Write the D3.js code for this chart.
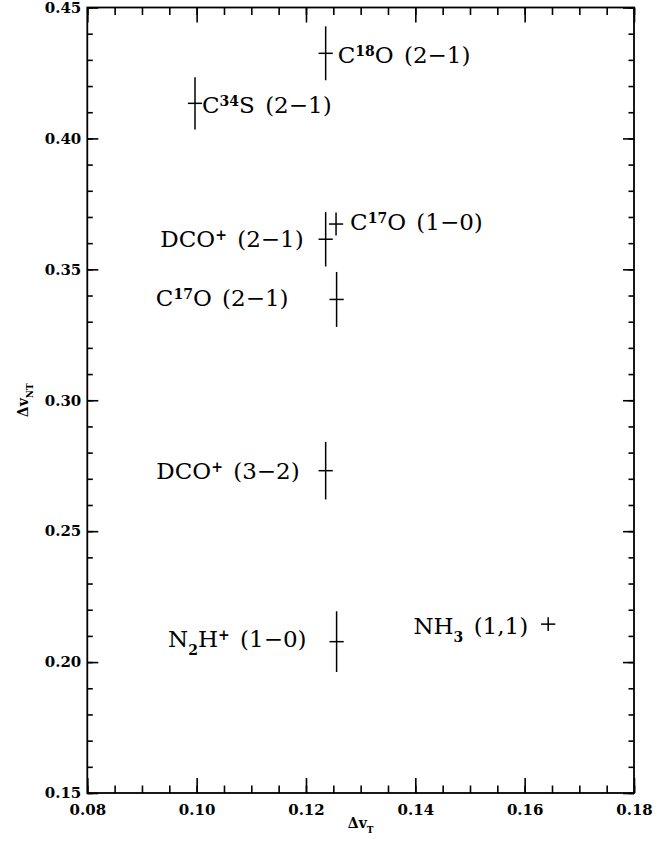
<!DOCTYPE html>
<html>
<head>
<meta charset="utf-8">
<script src="https://cdn.jsdelivr.net/npm/d3@7"></script>
<style>
  body { margin: 0; background: #fff; }
</style>
</head>
<body>
<div id="chart"></div>
<script>
// line names, as rich text pieces: [text, style]  (n = normal, sup, sub)
var lineNames = [
  [["C", "n"], ["18", "sup"], ["O (2\u22121)", "n"]],
  [["C", "n"], ["34", "sup"], ["S (2\u22121)", "n"]],
  [["C", "n"], ["17", "sup"], ["O (1\u22120)", "n"]],
  [["DCO", "n"], ["+", "sup"], [" (2\u22121)", "n"]],
  [["C", "n"], ["17", "sup"], ["O (2\u22121)", "n"]],
  [["DCO", "n"], ["+", "sup"], [" (3\u22122)", "n"]],
  [["N", "n"], ["2", "sub"], ["H", "n"], ["+", "sup"], [" (1\u22120)", "n"]],
  [["NH", "n"], ["3", "sub"], [" (1,1)", "n"]]
];
// thermal and non-thermal line widths with their errors
var dvT = [0.1236, 0.0997, 0.1255, 0.1236, 0.1256, 0.1236, 0.1256, 0.1643];
var dvNT = [0.4325, 0.4134, 0.3673, 0.3615, 0.3385, 0.2731, 0.2078, 0.2145];
var errT = [0.0013, 0.0013, 0.0013, 0.0013, 0.0013, 0.0013, 0.0013, 0.0013];
var errNT = [0.0103, 0.0100, 0.0044, 0.0104, 0.0105, 0.0110, 0.0116, 0.0026];
var xMajor = [0.08, 0.10, 0.12, 0.14, 0.16, 0.18];
var yMajor = [0.15, 0.20, 0.25, 0.30, 0.35, 0.40, 0.45];

// where each label sits relative to its point (pixels)
var labelPlace = [
  { anchor: "start", dx: 12, dy: 10 },
  { anchor: "start", dx: 7, dy: 9.5 },
  { anchor: "start", dx: 14, dy: 6 },
  { anchor: "end", dx: -22, dy: 7.5 },
  { anchor: "end", dx: -48, dy: 7 },
  { anchor: "end", dx: -26, dy: 8.5 },
  { anchor: "end", dx: -30, dy: 5.5 },
  { anchor: "end", dx: -20, dy: 9.5 }
];

var margin = { top: 7.5, right: 38, bottom: 56, left: 87.3 },
  width = 672 - margin.left - margin.right,
  height = 849 - margin.top - margin.bottom;

var svg = d3
  .select("#chart")
  .append("svg")
  .attr("width", 672)
  .attr("height", 849)
  .append("g")
  .attr("transform", "translate(" + margin.left + "," + margin.top + ")");

var x = d3.scaleLinear().domain([0.08, 0.18]).range([0, width]);
var y = d3.scaleLinear().domain([0.15, 0.45]).range([height, 0]);

var xMinor = d3.range(0, 21).map(function (i) { return 0.08 + i * 0.005; });
var yMinor = d3.range(0, 31).map(function (i) { return 0.15 + i * 0.01; });

var tickFont = "'DejaVu Serif', serif";

function styleAxis(g) {
  g.select(".domain").remove();
  g.selectAll("line").attr("stroke", "#000").attr("stroke-width", 1.6);
  g.selectAll("text")
    .attr("fill", "#000")
    .style("font-family", tickFont)
    .style("font-weight", "bold")
    .style("font-size", "15px");
}

// bottom axis (ticks point inward)
svg.append("g")
  .attr("transform", "translate(0," + height + ")")
  .call(d3.axisBottom(x).tickValues(xMinor).tickSizeInner(-7.5).tickSizeOuter(0).tickFormat(""))
  .call(styleAxis);
svg.append("g")
  .attr("transform", "translate(0," + height + ")")
  .call(d3.axisBottom(x).tickValues(xMajor).tickSizeInner(-15).tickSizeOuter(0).tickPadding(11).tickFormat(d3.format(".2f")))
  .call(styleAxis);
// top axis
svg.append("g")
  .call(d3.axisTop(x).tickValues(xMinor).tickSizeInner(-7.5).tickSizeOuter(0).tickFormat(""))
  .call(styleAxis);
svg.append("g")
  .call(d3.axisTop(x).tickValues(xMajor).tickSizeInner(-15).tickSizeOuter(0).tickFormat(""))
  .call(styleAxis);
// left axis
svg.append("g")
  .call(d3.axisLeft(y).tickValues(yMinor).tickSizeInner(-5.5).tickSizeOuter(0).tickFormat(""))
  .call(styleAxis);
svg.append("g")
  .call(d3.axisLeft(y).tickValues(yMajor).tickSizeInner(-11).tickSizeOuter(0).tickPadding(6).tickFormat(d3.format(".2f")))
  .call(styleAxis);
// right axis
svg.append("g")
  .attr("transform", "translate(" + width + ",0)")
  .call(d3.axisRight(y).tickValues(yMinor).tickSizeInner(-5.5).tickSizeOuter(0).tickFormat(""))
  .call(styleAxis);
svg.append("g")
  .attr("transform", "translate(" + width + ",0)")
  .call(d3.axisRight(y).tickValues(yMajor).tickSizeInner(-11).tickSizeOuter(0).tickFormat(""))
  .call(styleAxis);

// frame
svg.append("rect")
  .attr("width", width)
  .attr("height", height)
  .attr("fill", "none")
  .attr("stroke", "#000")
  .attr("stroke-width", 1.8);

// points with error bars
var pts = dvT.map(function (d, i) {
  return { x: d, y: dvNT[i], ex: errT[i], ey: errNT[i], name: lineNames[i], place: labelPlace[i] };
});

var marks = svg.append("g").selectAll("g").data(pts).enter().append("g");
marks.append("line")
  .attr("x1", function (d) { return x(d.x); })
  .attr("x2", function (d) { return x(d.x); })
  .attr("y1", function (d) { return y(d.y - d.ey); })
  .attr("y2", function (d) { return y(d.y + d.ey); })
  .attr("stroke", "#000")
  .attr("stroke-width", 1.5);
marks.append("line")
  .attr("x1", function (d) { return x(d.x - d.ex); })
  .attr("x2", function (d) { return x(d.x + d.ex); })
  .attr("y1", function (d) { return y(d.y); })
  .attr("y2", function (d) { return y(d.y); })
  .attr("stroke", "#000")
  .attr("stroke-width", 1.5);

// labels
var labels = marks.append("text")
  .attr("x", function (d) { return x(d.x) + d.place.dx; })
  .attr("y", function (d) { return y(d.y) + d.place.dy; })
  .attr("text-anchor", function (d) { return d.place.anchor; })
  .style("font-family", tickFont)
  .style("font-size", "23px")
  .style("word-spacing", "3px")
  .attr("fill", "#000");

labels.each(function (d) {
  var t = d3.select(this);
  var shift = 0;
  d.name.forEach(function (p) {
    var span = t.append("tspan").text(p[0]);
    var want = 0;
    if (p[1] === "sup") {
      want = -7;
      span.style("font-size", "14px").style("font-weight", "bold");
    } else if (p[1] === "sub") {
      want = 8;
      span.style("font-size", "14px").style("font-weight", "bold");
    }
    span.attr("dy", want - shift);
    shift = want;
  });
});

// axis titles
var xTitle = svg.append("text")
  .attr("x", width / 2)
  .attr("y", height + 35)
  .attr("text-anchor", "middle")
  .style("font-family", tickFont)
  .style("font-weight", "bold")
  .style("font-size", "14px");
xTitle.append("tspan").text("\u0394v");
xTitle.append("tspan").text("T").attr("dy", 5).style("font-size", "9px");

var yTitle = svg.append("text")
  .attr("transform", "translate(" + (28 - margin.left) + "," + (height / 2) + ") rotate(-90)")
  .attr("text-anchor", "middle")
  .style("font-family", tickFont)
  .style("font-weight", "bold")
  .style("font-size", "14px");
yTitle.append("tspan").text("\u0394v");
yTitle.append("tspan").text("NT").attr("dy", 5).style("font-size", "9px");
</script>
</body>
</html>
